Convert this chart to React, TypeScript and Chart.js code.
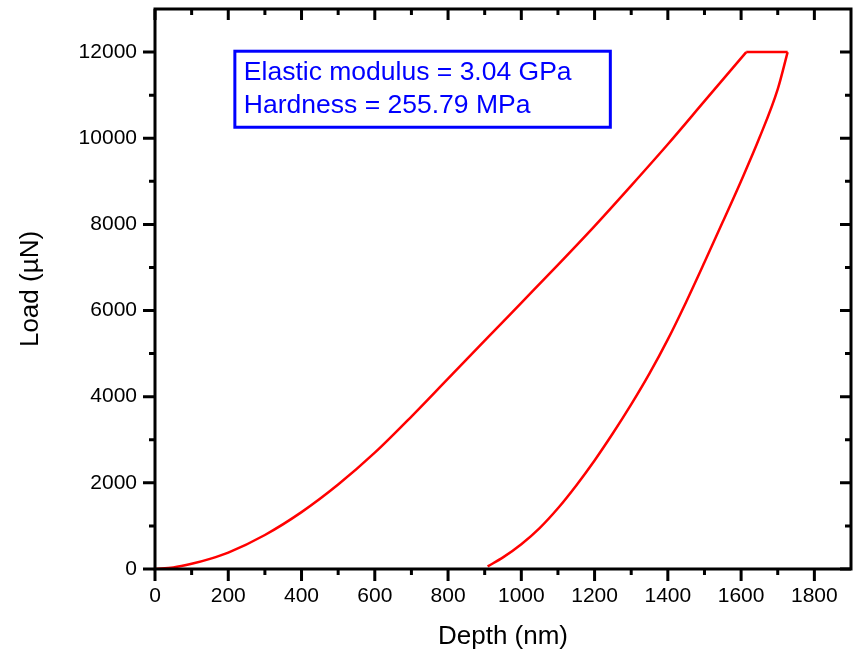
import React, { useEffect, useRef } from "react";
import { Chart, registerables } from "chart.js";

Chart.register(...registerables);

// Loading branch (depth nm, load µN)
const loadingDepth = [0, 50, 100, 150, 200, 300, 400, 500, 600, 700, 800, 900, 1000, 1100, 1200, 1300, 1400, 1500, 1614];
const loadingLoad = [0, 35, 120, 235, 380, 790, 1320, 1960, 2700, 3540, 4420, 5300, 6180, 7060, 7960, 8900, 9860, 10860, 12000];

// Hold at peak load
const holdDepth = [1614, 1727];
const holdLoad = [12000, 12000];

// Unloading branch (ordered by increasing depth)
const unloadingDepth = [908, 950, 1000, 1050, 1100, 1150, 1200, 1250, 1300, 1350, 1400, 1450, 1500, 1550, 1600, 1650, 1700, 1727];
const unloadingLoad = [60, 270, 575, 950, 1410, 1940, 2520, 3150, 3820, 4540, 5330, 6200, 7120, 8060, 9010, 10010, 11140, 12000];

// Axis ticks
const xMajorTicks = [0, 200, 400, 600, 800, 1000, 1200, 1400, 1600, 1800];
const xMinorTicks = [100, 300, 500, 700, 900, 1100, 1300, 1500, 1700];
const yMajorTicks = [0, 2000, 4000, 6000, 8000, 10000, 12000];
const yMinorTicks = [1000, 3000, 5000, 7000, 9000, 11000];

const annotationLines = ["Elastic modulus = 3.04 GPa", "Hardness = 255.79 MPa"];

const FONT = "'Liberation Sans', Arial, sans-serif";

const toPoints = (xs: number[], ys: number[]) => xs.map((x, i) => ({ x, y: ys[i] }));

const framePlugin = {
  id: "frameTicks",
  afterDraw(chart: any) {
    const { ctx, chartArea } = chart;
    const xs = chart.scales.x;
    const ys = chart.scales.y;
    const { left, right, top, bottom } = chartArea;
    ctx.save();
    ctx.strokeStyle = "#000";
    ctx.lineWidth = 3;
    ctx.lineCap = "butt";
    ctx.beginPath();
    ctx.rect(left, top, right - left, bottom - top);
    ctx.stroke();
    const major = 12;
    const minor = 6;
    ctx.beginPath();
    xMajorTicks.forEach((v) => {
      const p = xs.getPixelForValue(v);
      ctx.moveTo(p, bottom);
      ctx.lineTo(p, bottom + major);
      ctx.moveTo(p, top);
      ctx.lineTo(p, top + major - 1);
    });
    xMinorTicks.forEach((v) => {
      const p = xs.getPixelForValue(v);
      ctx.moveTo(p, bottom);
      ctx.lineTo(p, bottom + minor);
      ctx.moveTo(p, top);
      ctx.lineTo(p, top + minor);
    });
    yMajorTicks.forEach((v) => {
      const p = ys.getPixelForValue(v);
      ctx.moveTo(left, p);
      ctx.lineTo(left - major, p);
      ctx.moveTo(right, p);
      ctx.lineTo(right - major + 1, p);
    });
    yMinorTicks.forEach((v) => {
      const p = ys.getPixelForValue(v);
      ctx.moveTo(left, p);
      ctx.lineTo(left - minor, p);
      ctx.moveTo(right, p);
      ctx.lineTo(right - minor, p);
    });
    ctx.stroke();

    // annotation box (placed in data coordinates)
    const bx0 = xs.getPixelForValue(218);
    const bx1 = xs.getPixelForValue(1243);
    const by0 = ys.getPixelForValue(12020);
    const by1 = ys.getPixelForValue(10255);
    ctx.strokeStyle = "#0000ff";
    ctx.lineWidth = 3;
    ctx.strokeRect(bx0, by0, bx1 - bx0, by1 - by0);
    ctx.fillStyle = "#0000ff";
    ctx.font = `26.5px ${FONT}`;
    ctx.textAlign = "left";
    ctx.textBaseline = "alphabetic";
    ctx.fillText(annotationLines[0], bx0 + 9, by0 + 28.5);
    ctx.fillText(annotationLines[1], bx0 + 9, by0 + 62);
    ctx.restore();
  },
};

export default function App() {
  const canvasRef = useRef<HTMLCanvasElement | null>(null);

  useEffect(() => {
    if (!canvasRef.current) return;
    const lineStyle = {
      showLine: true,
      borderColor: "#ff0000",
      backgroundColor: "#ff0000",
      borderWidth: 2.5,
      pointRadius: 0,
      fill: false,
    };
    const chart = new Chart(canvasRef.current, {
      type: "scatter",
      data: {
        datasets: [
          { ...lineStyle, data: toPoints(loadingDepth, loadingLoad), cubicInterpolationMode: "monotone" } as any,
          { ...lineStyle, data: toPoints(holdDepth, holdLoad), tension: 0 } as any,
          { ...lineStyle, data: toPoints(unloadingDepth, unloadingLoad), cubicInterpolationMode: "monotone" } as any,
        ],
      },
      options: {
        animation: false,
        responsive: false,
        events: [],
        layout: { padding: { left: 0, right: 6, top: 9, bottom: 0 } },
        plugins: { legend: { display: false }, tooltip: { enabled: false } },
        scales: {
          x: {
            type: "linear",
            min: 0,
            max: 1900,
            afterBuildTicks: (s: any) => {
              s.ticks = xMajorTicks.map((v) => ({ value: v }));
            },
            afterFit: (s: any) => {
              s.height = 84;
              s.paddingLeft = 0;
              s.paddingRight = 0;
            },
            grid: { display: false, drawTicks: false },
            border: { display: false },
            ticks: {
              autoSkip: false,
              maxRotation: 0,
              padding: 15,
              color: "#000",
              font: { family: FONT, size: 21 },
              callback: (v: any) => String(v),
            },
            title: {
              display: true,
              text: "Depth (nm)",
              color: "#000",
              font: { family: FONT, size: 26 },
              padding: { top: 0, bottom: 1 },
            },
          },
          y: {
            type: "linear",
            min: 0,
            max: 13000,
            afterBuildTicks: (s: any) => {
              s.ticks = yMajorTicks.map((v) => ({ value: v }));
            },
            afterFit: (s: any) => {
              s.width = 155;
              s.paddingTop = 0;
              s.paddingBottom = 0;
            },
            grid: { display: false, drawTicks: false },
            border: { display: false },
            ticks: {
              autoSkip: false,
              padding: 18,
              color: "#000",
              font: { family: FONT, size: 21 },
              callback: (v: any) => String(v),
            },
            title: {
              display: true,
              text: "Load (µN)",
              color: "#000",
              font: { family: FONT, size: 26 },
              padding: { top: 15, bottom: 0 },
            },
          },
        },
      } as any,
      plugins: [framePlugin],
    });
    return () => chart.destroy();
  }, []);

  return (
    <div style={{ position: "absolute", left: 0, top: 0, width: 857, height: 653, background: "#fff" }}>
      <canvas ref={canvasRef} width={857} height={653} style={{ display: "block" }} />
    </div>
  );
}
